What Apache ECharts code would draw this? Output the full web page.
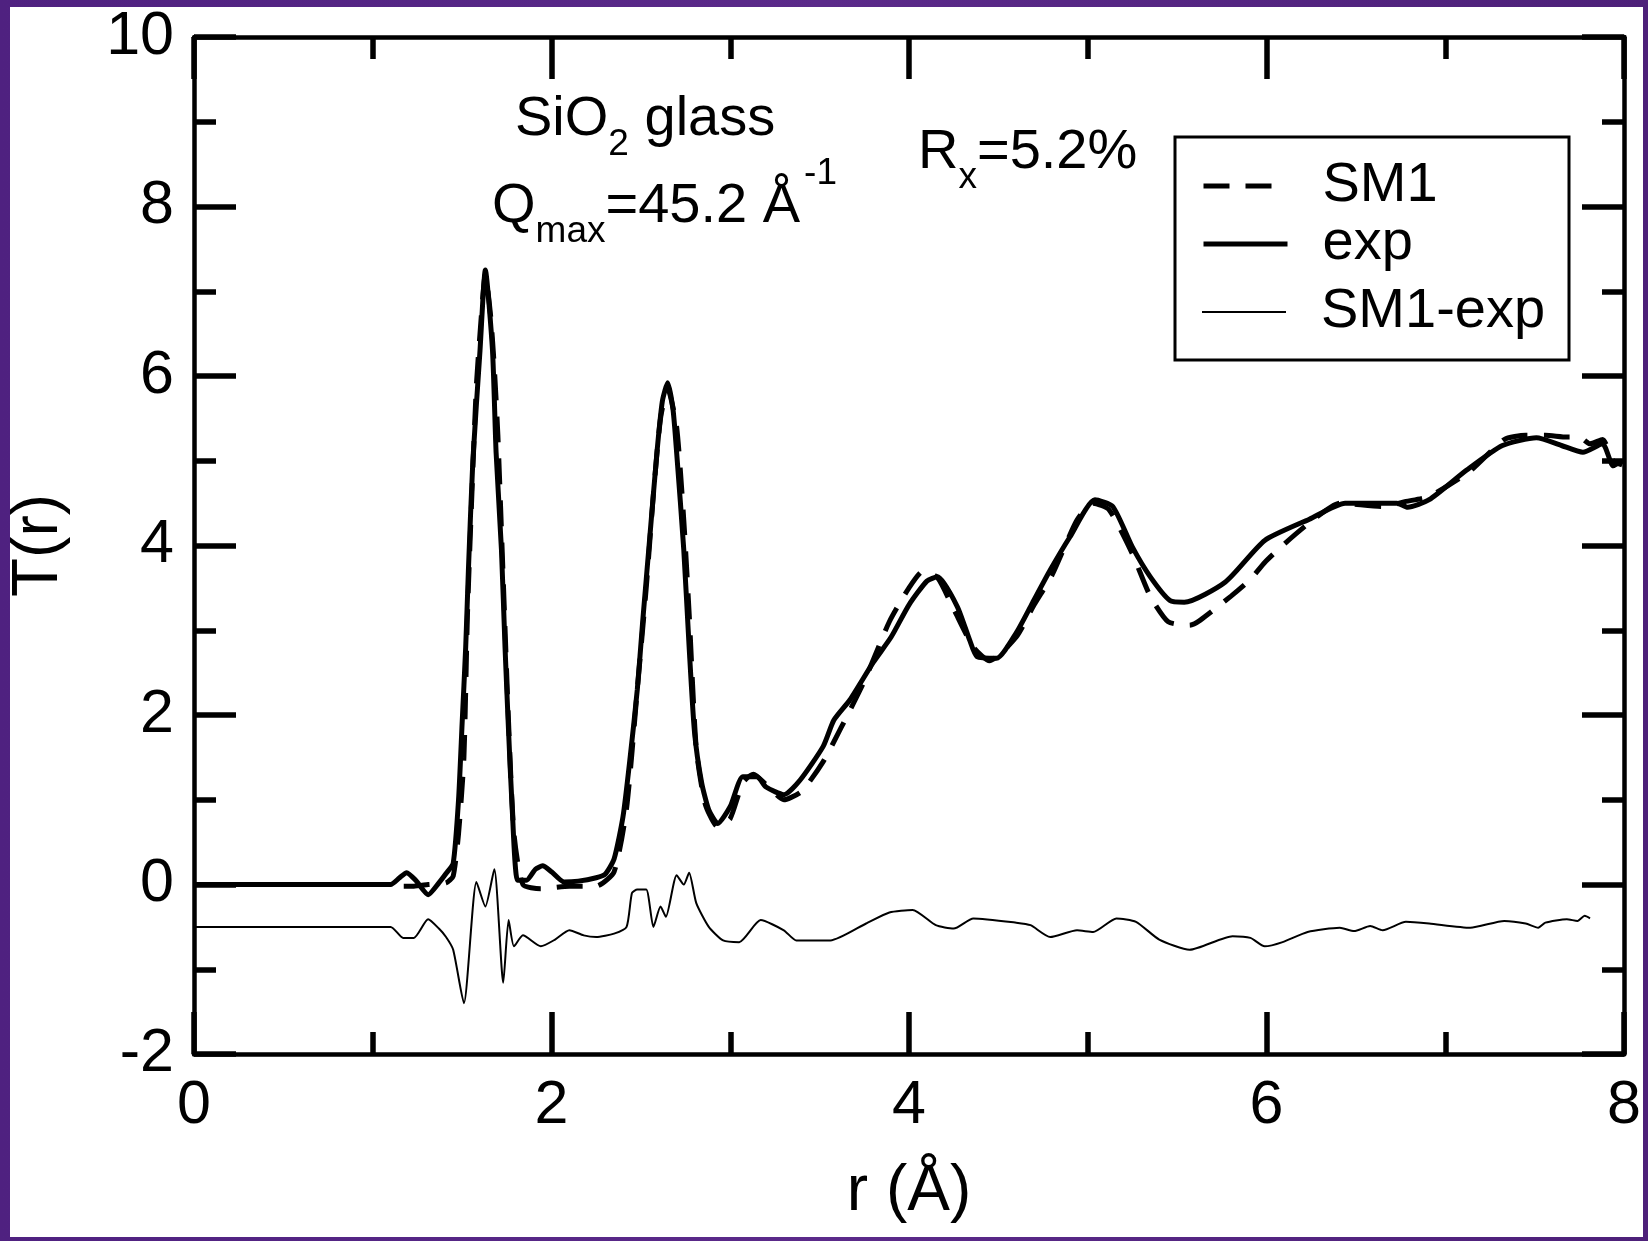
<!DOCTYPE html>
<html>
<head>
<meta charset="utf-8">
<script src="https://cdn.jsdelivr.net/npm/echarts@6/dist/echarts.min.js"></script>
<style>
  html, body { margin: 0; padding: 0; }
  body {
    width: 1648px; height: 1241px; overflow: hidden;
    background: linear-gradient(90deg, #4f2180 0%, #5b2a8a 50%, #4d2079 100%);
    position: relative;
  }
  #chart {
    position: absolute; left: 10px; top: 7px;
    width: 1633px; height: 1230px; background: #fff;
  }
</style>
</head>
<body>
<div id="chart"></div>
<script>
// r values (Å) and T(r)
const expR = [0, 1.10, 1.15, 1.19, 1.24, 1.31, 1.37, 1.41, 1.45, 1.48, 1.50, 1.52, 1.535, 1.56, 1.60, 1.63,
  1.67, 1.69, 1.72, 1.74, 1.76, 1.78, 1.81, 1.86, 1.91, 1.95, 2.00, 2.07, 2.15, 2.25, 2.30, 2.35,
  2.40, 2.44, 2.48, 2.51, 2.55, 2.59, 2.62, 2.65, 2.68, 2.70, 2.74, 2.77, 2.80, 2.84, 2.88, 2.93, 3.00, 3.07,
  3.15, 3.20, 3.30, 3.39, 3.52, 3.58, 3.67, 3.80, 3.90, 4.00, 4.10, 4.16, 4.27, 4.34, 4.38, 4.49,
  4.60, 4.69, 4.79, 4.90, 5.04, 5.14, 5.25, 5.35, 5.46, 5.54, 5.77, 5.99, 6.24, 6.44, 6.73, 6.79,
  6.91, 7.12, 7.32, 7.51, 7.65, 7.77, 7.88, 7.94, 7.99];
const expT = [0, 0, 0.08, 0.14, 0.05, -0.12, 0.02, 0.13, 0.25, 1.0, 1.9, 2.8, 3.7, 5.0, 6.3, 7.25,
  6.3, 5.1, 3.95, 2.8, 1.8, 0.9, 0.05, 0.05, 0.18, 0.22, 0.15, 0.03, 0.04, 0.08, 0.12, 0.3,
  0.8, 1.5, 2.3, 3.1, 4.1, 5.1, 5.7, 5.92, 5.6, 5.1, 3.95, 2.8, 1.8, 1.2, 0.88, 0.72, 0.92, 1.27,
  1.27, 1.15, 1.06, 1.23, 1.63, 1.94, 2.18, 2.62, 2.92, 3.3, 3.58, 3.63, 3.28, 2.88, 2.69, 2.67,
  2.97, 3.32, 3.71, 4.10, 4.54, 4.46, 3.98, 3.63, 3.35, 3.33, 3.57, 4.06, 4.31, 4.5, 4.5, 4.45,
  4.54, 4.89, 5.18, 5.27, 5.18, 5.1, 5.2, 4.94, 5.0];

const sm1R = [0, 1.10, 1.17, 1.23, 1.31, 1.41, 1.45, 1.48, 1.51, 1.53, 1.56, 1.58, 1.60, 1.63, 1.66,
  1.68, 1.70, 1.73, 1.76, 1.79, 1.84, 1.94, 2.10, 2.25, 2.35, 2.42, 2.48, 2.53, 2.57, 2.61, 2.65,
  2.70, 2.74, 2.77, 2.81, 2.86, 2.93, 3.00, 3.07, 3.13, 3.20, 3.30, 3.40, 3.52, 3.62, 3.75, 3.89,
  4.00, 4.08, 4.16, 4.25, 4.36, 4.45, 4.60, 4.70, 4.80, 4.94, 5.03, 5.12, 5.25, 5.35, 5.45, 5.57,
  5.63, 5.80, 5.91, 5.99, 6.09, 6.23, 6.41, 6.65, 6.78, 6.91, 7.14, 7.33, 7.45, 7.56, 7.68, 7.75,
  7.81, 7.88, 7.94, 7.99];
const sm1T = [0, 0, -0.02, -0.02, 0.0, 0.02, 0.1, 0.6, 1.5, 3.2, 4.9, 5.9, 6.5, 7.2, 6.7,
  6.1, 5.3, 3.6, 1.9, 0.6, 0.0, -0.05, -0.02, -0.02, 0.15, 0.9, 2.3, 3.5, 4.6, 5.5, 5.85,
  5.4, 4.3, 3.2, 1.6, 0.95, 0.68, 0.78, 1.2, 1.3, 1.18, 1.0, 1.1, 1.45, 1.85, 2.4, 3.1,
  3.5, 3.7, 3.62, 3.25, 2.8, 2.64, 2.92, 3.3, 3.65, 4.3, 4.5, 4.42, 3.9, 3.4, 3.1, 3.06,
  3.12, 3.4, 3.6, 3.8, 4.0, 4.25, 4.5, 4.46, 4.52, 4.58, 4.88, 5.25, 5.3, 5.3, 5.28, 5.28,
  5.2, 5.25, 5.0, 4.95];

// SM1-exp as plotted (shifted down by 0.5)
const diffR = [0, 1.10, 1.17, 1.23, 1.31, 1.37, 1.41, 1.45, 1.51, 1.58, 1.63, 1.68, 1.73, 1.76, 1.79,
  1.84, 1.94, 2.02, 2.10, 2.18, 2.25, 2.35, 2.42, 2.45, 2.48, 2.53, 2.57, 2.61, 2.64, 2.70, 2.74,
  2.77, 2.81, 2.88, 2.96, 3.05, 3.17, 3.30, 3.37, 3.56, 3.76, 3.89, 4.02, 4.15, 4.25, 4.36, 4.60,
  4.68, 4.79, 4.94, 5.03, 5.16, 5.27, 5.40, 5.57, 5.81, 5.91, 5.99, 6.09, 6.23, 6.41, 6.49, 6.58,
  6.65, 6.78, 6.91, 7.14, 7.33, 7.45, 7.52, 7.56, 7.68, 7.74, 7.78, 7.81];
const diffT = [-0.5, -0.5, -0.63, -0.63, -0.41, -0.52, -0.62, -0.77, -1.40, 0.03, -0.26, 0.18, -1.16, -0.42, -0.73,
  -0.6, -0.73, -0.65, -0.54, -0.6, -0.62, -0.58, -0.5, -0.1, -0.06, -0.06, -0.5, -0.26, -0.38, 0.11, 0.0,
  0.14, -0.22, -0.5, -0.66, -0.68, -0.42, -0.54, -0.66, -0.66, -0.46, -0.33, -0.30, -0.48, -0.52, -0.40, -0.45,
  -0.48, -0.62, -0.54, -0.56, -0.40, -0.44, -0.65, -0.77, -0.61, -0.63, -0.73, -0.68, -0.56, -0.51, -0.55, -0.49,
  -0.54, -0.44, -0.46, -0.51, -0.43, -0.46, -0.51, -0.45, -0.41, -0.43, -0.37, -0.40];

const xTicks = [0, 2, 4, 6, 8];
const yTicks = [-2, 0, 2, 4, 6, 8, 10];

const FONT = '"Liberation Sans", Arial, Helvetica, sans-serif';

const dashPattern = [26, 16];

function pairs(xs, ys) {
  return xs.map((x, i) => [x, ys[i]]);
}

const chart = echarts.init(document.getElementById('chart'));

function axisCommon(showLabel) {
  return {
    type: 'value',
    splitLine: { show: false },
    axisLine: { show: true, onZero: false, lineStyle: { color: '#000', width: 4.5 } },
    axisTick: { show: true, inside: true, length: 42, lineStyle: { color: '#000', width: 5.5 } },
    minorTick: { show: true, splitNumber: 2, length: 22, lineStyle: { color: '#000', width: 5.5 } },
    axisLabel: { show: showLabel, color: '#000', fontSize: 61, fontFamily: FONT }
  };
}

const xBottom = Object.assign(axisCommon(true), {
  position: 'bottom', min: xTicks[0], max: xTicks[xTicks.length - 1], interval: 2,
  name: 'r (Å)', nameLocation: 'middle', nameGap: 106,
  nameTextStyle: { color: '#000', fontSize: 64, fontFamily: FONT }
});
xBottom.axisLabel.margin = 22;
const xTop = Object.assign(axisCommon(false), {
  position: 'top', min: 0, max: 8, interval: 2
});
const yLeft = Object.assign(axisCommon(true), {
  position: 'left', min: yTicks[0], max: yTicks[yTicks.length - 1], interval: 2,
  name: 'T(r)', nameLocation: 'middle', nameGap: 123,
  nameTextStyle: { color: '#000', fontSize: 64, fontFamily: FONT }
});
yLeft.axisLabel.margin = 20;
const yRight = Object.assign(axisCommon(false), {
  position: 'right', min: -2, max: 10, interval: 2
});

function legendFor(name, top, lineStyle) {
  return {
    orient: 'vertical', left: 1186, top: top,
    itemWidth: 84, itemHeight: 14,
    itemStyle: { opacity: 0 },
    lineStyle: Object.assign({ color: '#000' }, lineStyle),
    textStyle: { color: '#000', fontSize: 56, fontFamily: FONT, lineHeight: 60, padding: [0, 0, 0, 30] },
    selectedMode: false,
    data: [name]
  };
}

const option = {
  animation: false,
  backgroundColor: '#fff',
  grid: { left: 184, top: 30, right: 19, bottom: 183, containLabel: false, outerBoundsMode: 'none' },
  xAxis: [xBottom, xTop],
  yAxis: [yLeft, yRight],
  legend: [
    legendFor('SM1', 144, { width: 5, type: dashPattern }),
    legendFor('exp', 202, { width: 5, type: 'solid' }),
    legendFor('SM1-exp', 270, { width: 2, type: 'solid' })
  ],
  graphic: [
    {
      type: 'rect', shape: { x: 1165, y: 130, width: 394, height: 223 },
      style: { fill: 'none', stroke: '#000', lineWidth: 3 }, z: 0
    },
    {
      type: 'text', x: 505, y: 63,
      style: {
        text: '{n|SiO}{s|2}{n| glass}',
        rich: {
          n: { fontSize: 56, fontFamily: FONT, lineHeight: 100, fill: '#000' },
          s: { fontSize: 37, fontFamily: FONT, lineHeight: 30, padding: [50, 0, 0, 0], fill: '#000' }
        }
      }
    },
    {
      type: 'text', x: 482, y: 150,
      style: {
        text: '{n|Q}{s|max}{n|=45.2 Å}{p|-1}',
        rich: {
          n: { fontSize: 56, fontFamily: FONT, lineHeight: 100, fill: '#000' },
          s: { fontSize: 37, fontFamily: FONT, lineHeight: 30, padding: [50, 0, 0, 0], fill: '#000' },
          p: { fontSize: 37, fontFamily: FONT, lineHeight: 30, padding: [0, 0, 66, 4], fill: '#000' }
        }
      }
    },
    {
      type: 'text', x: 908, y: 96,
      style: {
        text: '{n|R}{s|x}{n|=5.2%}',
        rich: {
          n: { fontSize: 56, fontFamily: FONT, lineHeight: 100, fill: '#000' },
          s: { fontSize: 37, fontFamily: FONT, lineHeight: 30, padding: [50, 0, 0, 0], fill: '#000' }
        }
      }
    }
  ],
  series: [
    {
      name: 'SM1', type: 'line', symbol: 'none', smooth: 0.2,
      itemStyle: { color: '#000' },
      lineStyle: { color: '#000', width: 5, type: dashPattern },
      data: pairs(sm1R, sm1T)
    },
    {
      name: 'exp', type: 'line', symbol: 'none', smooth: 0.2,
      itemStyle: { color: '#000' },
      lineStyle: { color: '#000', width: 5 },
      data: pairs(expR, expT)
    },
    {
      name: 'SM1-exp', type: 'line', symbol: 'none', smooth: 0.2,
      itemStyle: { color: '#000' },
      lineStyle: { color: '#000', width: 2 },
      data: pairs(diffR, diffT)
    }
  ]
};

chart.setOption(option);
</script>
</body>
</html>
